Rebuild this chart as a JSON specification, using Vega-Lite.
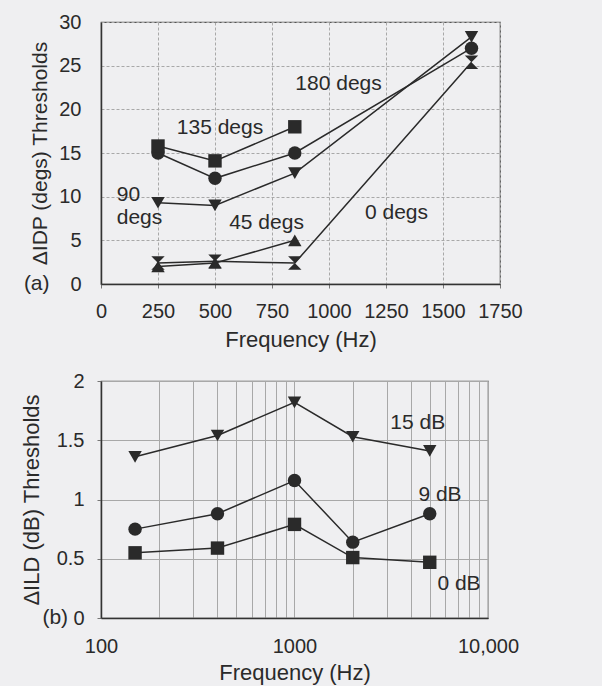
{
  "$schema": "https://vega.github.io/schema/vega-lite/v6.json",
  "background": "#efeff1",
  "padding": {"top": 11, "left": 19, "right": 80, "bottom": 2},
  "datasets": {
    "idp": [
      {"series": "180 degs", "freq": 250, "thr": 15.0},
      {"series": "180 degs", "freq": 500, "thr": 12.1},
      {"series": "180 degs", "freq": 850, "thr": 15.0},
      {"series": "180 degs", "freq": 1625, "thr": 27.0},
      {"series": "135 degs", "freq": 250, "thr": 15.8},
      {"series": "135 degs", "freq": 500, "thr": 14.1},
      {"series": "135 degs", "freq": 850, "thr": 18.0},
      {"series": "90 degs", "freq": 250, "thr": 9.3},
      {"series": "90 degs", "freq": 500, "thr": 9.0},
      {"series": "90 degs", "freq": 850, "thr": 12.7},
      {"series": "90 degs", "freq": 1625, "thr": 28.3},
      {"series": "45 degs", "freq": 250, "thr": 2.0},
      {"series": "45 degs", "freq": 500, "thr": 2.4},
      {"series": "45 degs", "freq": 850, "thr": 5.0},
      {"series": "0 degs", "freq": 250, "thr": 2.4},
      {"series": "0 degs", "freq": 500, "thr": 2.6},
      {"series": "0 degs", "freq": 850, "thr": 2.4},
      {"series": "0 degs", "freq": 1625, "thr": 25.4}
    ],
    "idpLabels": [
      {"text": "180 degs", "freq": 1042, "thr": 22.9},
      {"text": "135 degs", "freq": 522, "thr": 17.9},
      {"text": "45 degs", "freq": 726, "thr": 7.0},
      {"text": "0 degs", "freq": 1296, "thr": 8.1},
      {"text": "(a)", "freq": -282, "thr": 0}
    ],
    "idpLeftLabels": [
      {"text": "90", "freq": 69, "thr": 10.2},
      {"text": "degs", "freq": 69, "thr": 7.6}
    ],
    "ild": [
      {"series": "15 dB", "freq": 150, "thr": 1.36},
      {"series": "15 dB", "freq": 400, "thr": 1.54},
      {"series": "15 dB", "freq": 1000, "thr": 1.82},
      {"series": "15 dB", "freq": 2000, "thr": 1.53},
      {"series": "15 dB", "freq": 5000, "thr": 1.41},
      {"series": "9 dB", "freq": 150, "thr": 0.75},
      {"series": "9 dB", "freq": 400, "thr": 0.88},
      {"series": "9 dB", "freq": 1000, "thr": 1.16},
      {"series": "9 dB", "freq": 2000, "thr": 0.64},
      {"series": "9 dB", "freq": 5000, "thr": 0.88},
      {"series": "0 dB", "freq": 150, "thr": 0.55},
      {"series": "0 dB", "freq": 400, "thr": 0.59},
      {"series": "0 dB", "freq": 1000, "thr": 0.79},
      {"series": "0 dB", "freq": 2000, "thr": 0.51},
      {"series": "0 dB", "freq": 5000, "thr": 0.47}
    ],
    "ildLabels": [
      {"text": "15 dB", "freq": 4335, "thr": 1.646},
      {"text": "9 dB", "freq": 5650, "thr": 1.035},
      {"text": "0 dB", "freq": 7080, "thr": 0.29},
      {"text": "(b)", "freq": 58, "thr": 0}
    ]
  },
  "concat": [
    {
      "width": 399,
      "height": 262,
      "layer": [
        {
          "data": {"name": "idp"},
          "mark": {"type": "line", "color": "#2a2a2a", "strokeWidth": 1.5},
          "encoding": {
            "x": {"field": "freq", "type": "quantitative", "scale": {"domain": [0, 1750], "nice": false},
              "axis": {"title": "Frequency (Hz)", "values": [0,125,250,375,500,625,750,875,1000,1125,1250,1375,1500,1625,1750],
                "labelExpr": "datum.value % 250 === 0 ? format(datum.value, 'd') : ''",
                "labelOverlap": false, "labelBound": false, "labelFlush": false,
                "gridOpacity": {"condition": {"test": "datum.value % 250 !== 0", "value": 0}, "value": 1},
                "tickSize": 4, "labelPadding": 13, "titlePadding": 8}},
            "y": {"field": "thr", "type": "quantitative", "scale": {"domain": [0, 30], "nice": false},
              "axis": {"title": "ΔIDP (degs) Thresholds", "titleFontSize": 21, "values": [0,5,10,15,20,25,30], "tickSize": 0, "labelPadding": 20, "titlePadding": 8}},
            "detail": {"field": "series"}
          }
        },
        {
          "data": {"name": "idp"},
          "mark": {"type": "point", "filled": true, "opacity": 1, "color": "#2a2a2a", "size": 180},
          "encoding": {
            "x": {"field": "freq", "type": "quantitative"},
            "y": {"field": "thr", "type": "quantitative"},
            "shape": {"field": "series", "type": "nominal", "legend": null,
              "scale": {"domain": ["180 degs", "135 degs", "90 degs", "45 degs", "0 degs"],
                "range": ["circle", "square", "triangle-down", "triangle-up", "M-1,-1H1L-1,1H1Z"]}}
          }
        },
        {
          "data": {"name": "idpLabels"},
          "mark": {"type": "text", "fontSize": 21, "color": "#2a2a2a", "clip": false, "baseline": "middle", "align": "center"},
          "encoding": {
            "x": {"field": "freq", "type": "quantitative"},
            "y": {"field": "thr", "type": "quantitative"},
            "text": {"field": "text"}
          }
        },
        {
          "data": {"name": "idpLeftLabels"},
          "mark": {"type": "text", "fontSize": 21, "color": "#2a2a2a", "clip": false, "baseline": "middle", "align": "left"},
          "encoding": {
            "x": {"field": "freq", "type": "quantitative"},
            "y": {"field": "thr", "type": "quantitative"},
            "text": {"field": "text"}
          }
        }
      ]
    },
    {
      "width": 387,
      "height": 237,
      "layer": [
        {
          "data": {"name": "ild"},
          "mark": {"type": "line", "color": "#2a2a2a", "strokeWidth": 1.5},
          "encoding": {
            "x": {"field": "freq", "type": "quantitative", "scale": {"type": "log", "domain": [100, 10000], "nice": false},
              "axis": {"title": "Frequency (Hz)", "values": [100,200,300,400,500,600,700,800,900,1000,2000,3000,4000,5000,6000,7000,8000,9000,10000],
                "labelExpr": "datum.value === 10000 ? '10,000' : (datum.value === 100 || datum.value === 1000 ? format(datum.value, 'd') : '')",
                "labelOverlap": false, "labelBound": false, "labelFlush": false,
                "tickSize": 0, "labelPadding": 18, "titlePadding": 6, "gridDash": []}},
            "y": {"field": "thr", "type": "quantitative", "scale": {"domain": [0, 2], "nice": false},
              "axis": {"title": "ΔILD (dB) Thresholds", "values": [0,0.25,0.5,0.75,1,1.25,1.5,1.75,2],
                "labelExpr": "datum.value % 0.5 === 0 ? format(datum.value, '~g') : ''",
                "gridOpacity": {"condition": {"test": "datum.value % 0.5 !== 0", "value": 0}, "value": 1},
                "tickSize": 4, "labelPadding": 13, "titlePadding": 13, "gridDash": []}},
            "detail": {"field": "series"}
          }
        },
        {
          "data": {"name": "ild"},
          "mark": {"type": "point", "filled": true, "opacity": 1, "color": "#2a2a2a", "size": 180},
          "encoding": {
            "x": {"field": "freq", "type": "quantitative"},
            "y": {"field": "thr", "type": "quantitative"},
            "shape": {"field": "series", "type": "nominal", "legend": null,
              "scale": {"domain": ["15 dB", "9 dB", "0 dB"], "range": ["triangle-down", "circle", "square"]}}
          }
        },
        {
          "data": {"name": "ildLabels"},
          "mark": {"type": "text", "fontSize": 21, "color": "#2a2a2a", "clip": false, "baseline": "middle", "align": "center"},
          "encoding": {
            "x": {"field": "freq", "type": "quantitative"},
            "y": {"field": "thr", "type": "quantitative"},
            "text": {"field": "text"}
          }
        }
      ]
    }
  ],
  "columns": 1,
  "align": "none",
  "spacing": 19,
  "resolve": {"scale": {"shape": "independent"}},
  "config": {
    "font": "Liberation Sans",
    "view": {"stroke": "#555", "strokeWidth": 1.2},
    "axis": {
      "labelFont": "Liberation Sans", "labelFontSize": 20, "labelColor": "#2a2a2a",
      "titleFont": "Liberation Sans", "titleFontSize": 22, "titleFontWeight": "normal", "titleColor": "#2a2a2a",
      "domainColor": "#333", "domainWidth": 1.5, "tickColor": "#777",
      "gridColor": "#a8a8a8", "gridDash": [3, 2], "gridWidth": 1
    }
  }
}
